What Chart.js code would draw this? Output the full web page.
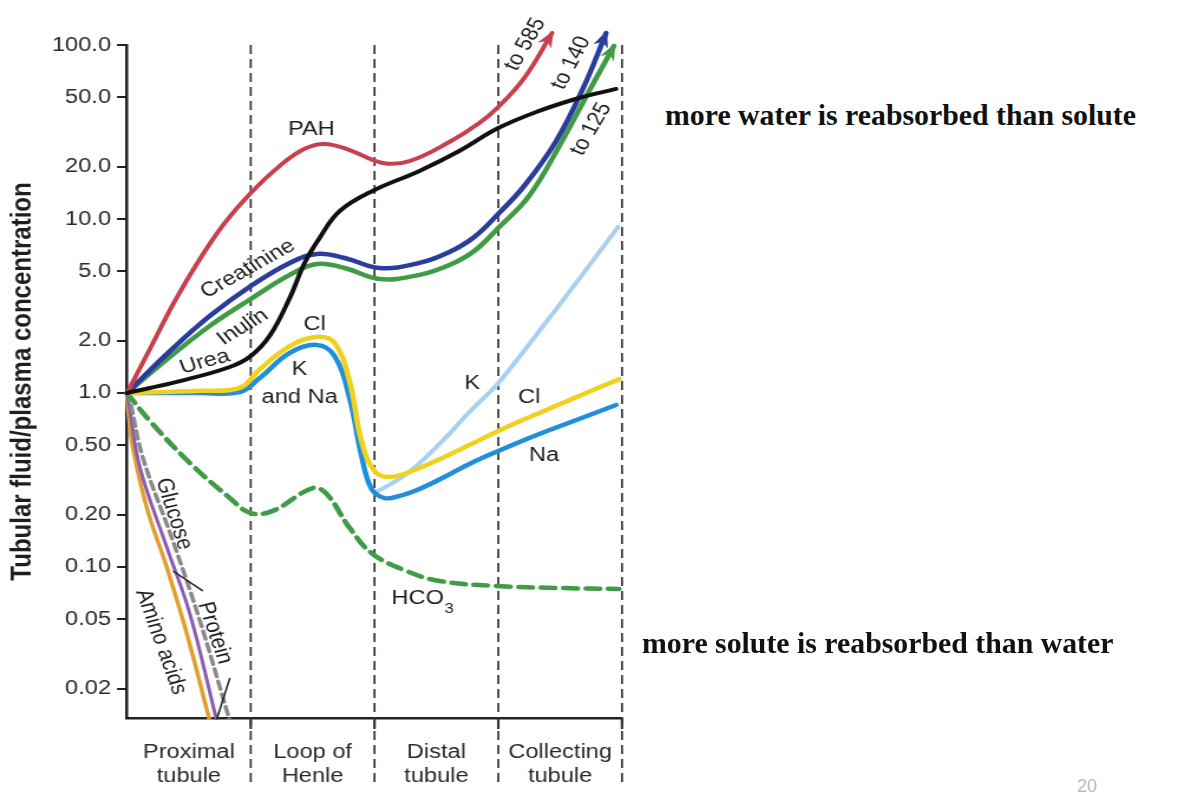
<!DOCTYPE html>
<html><head><meta charset="utf-8">
<script src="https://cdn.jsdelivr.net/npm/chart.js@4"></script>
<style>
html,body{margin:0;padding:0;background:#fff;}
#page{position:relative;width:1191px;height:792px;overflow:hidden;background:#fff;}
#chartBox{position:absolute;left:0;top:0;width:660px;height:792px;}
#c{display:block;}
.note{position:absolute;font-family:'Liberation Serif','Times New Roman',serif;font-weight:bold;font-size:29.8px;line-height:30px;color:#111;white-space:nowrap;}
.pg{position:absolute;font-family:'Liberation Sans',Arial,sans-serif;font-size:18px;color:#bbb;}
</style></head>
<body>
<div id="page">
  <div id="chartBox"><canvas id="c" width="559" height="792" style="width:660px;height:792px"></canvas></div>
  <div class="note" style="left:665px;top:100px">more water is reabsorbed than solute</div>
  <div class="note" style="left:642px;top:628px">more solute is reabsorbed than water</div>
  <div class="pg" style="left:1077px;top:776px">20</div>
</div>
<script>
// ---- data ----
const segments = ['Proximal\ntubule', 'Loop of\nHenle', 'Distal\ntubule', 'Collecting\ntubule'];
const segmentCenters = [0.5, 1.5, 2.5, 3.5];
const segmentBounds = [1, 2, 3, 4];
const yTickValues = [0.02, 0.05, 0.1, 0.2, 0.5, 1, 2, 5, 10, 20, 50, 100];
const yTickLabels = ['0.02', '0.05', '0.10', '0.20', '0.50', '1.0', '2.0', '5.0', '10.0', '20.0', '50.0', '100.0'];

const pahX = [0, 0.185, 0.387, 0.589, 0.79, 1.0, 1.234, 1.435, 1.597, 1.798, 2.065, 2.282, 2.605, 2.847, 3.0, 3.21, 3.435];
const pahV = [1, 1.79, 3.38, 5.89, 9.49, 14.1, 20.2, 25.3, 27.0, 24.9, 21.0, 21.5, 27.7, 35.6, 44.0, 64.6, 117];

const creatX = [0, 0.347, 0.669, 1.0, 1.315, 1.532, 1.758, 2.04, 2.363, 2.605, 2.806, 3.0, 3.21, 3.468, 3.694, 3.871];
const creatV = [1, 1.74, 2.77, 4.12, 5.59, 6.29, 5.97, 5.23, 5.59, 6.46, 7.88, 10.7, 15.5, 28.1, 58.1, 117];

const inulinX = [0, 0.347, 0.669, 1.0, 1.315, 1.532, 1.758, 2.04, 2.363, 2.605, 2.806, 3.0, 3.25, 3.516, 3.734, 3.935];
const inulinV = [1, 1.61, 2.43, 3.47, 4.77, 5.51, 5.23, 4.52, 4.77, 5.44, 6.55, 8.88, 13.6, 28.1, 54.4, 98.7];

const ureaX = [0, 0.427, 0.831, 1.0, 1.153, 1.315, 1.435, 1.556, 1.718, 1.984, 2.363, 2.685, 3.0, 3.331, 3.653, 3.952];
const ureaV = [1, 1.17, 1.41, 1.63, 2.13, 3.52, 5.59, 7.78, 11.1, 14.5, 18.9, 24.6, 33.3, 41.8, 49.6, 55.9];

const clX = [0, 0.589, 0.911, 1.073, 1.315, 1.532, 1.677, 1.798, 1.895, 2.0, 2.121, 2.323, 2.565, 2.766, 3.0, 3.331, 3.653, 3.976];
const clV = [1, 1.03, 1.07, 1.37, 1.86, 2.10, 1.94, 1.17, 0.530, 0.356, 0.329, 0.361, 0.429, 0.502, 0.605, 0.767, 0.961, 1.20];

const naX = [0, 0.589, 0.911, 1.073, 1.315, 1.532, 1.677, 1.798, 1.895, 1.976, 2.081, 2.202, 2.363, 2.565, 2.766, 3.0, 3.331, 3.653, 3.952];
const naV = [1, 1.0, 1.013, 1.22, 1.70, 1.89, 1.63, 0.936, 0.435, 0.281, 0.249, 0.256, 0.281, 0.329, 0.391, 0.464, 0.581, 0.709, 0.853];

const kX = [2.0, 2.258, 2.524, 2.79, 3.0, 3.331, 3.653, 3.968];
const kV = [0.266, 0.342, 0.509, 0.809, 1.14, 2.27, 4.52, 9.0];

const hco3X = [0, 0.185, 0.508, 0.831, 1.0, 1.177, 1.5, 1.613, 1.798, 1.984, 2.258, 2.524, 2.984, 3.492, 3.976];
const hco3V = [1, 0.690, 0.396, 0.249, 0.204, 0.210, 0.284, 0.263, 0.168, 0.119, 0.0948, 0.0831, 0.0778, 0.0757, 0.0748];

const glucoseX = [0, 0.024, 0.105, 0.323, 0.508, 0.726];
const glucoseV = [1, 0.788, 0.371, 0.129, 0.0537, 0.0130];

const aminoX = [0, 0.008, 0.048, 0.161, 0.323, 0.484, 0.669];
const aminoV = [1, 0.820, 0.483, 0.218, 0.0987, 0.0412, 0.0130];

const proteinX = [0, 0.024, 0.129, 0.371, 0.589, 0.831];
const proteinV = [1, 0.899, 0.423, 0.141, 0.049, 0.013];

// ---- annotation text (placed in data coordinates) ----
const labelItems = [
  {t: 'PAH', x: 1.49, v: 32.9, a: 0},
  {t: 'Creatinine', x: 0.976, v: 5.16, a: -29},
  {t: 'Inulin', x: 0.935, v: 2.39, a: -31},
  {t: 'Urea', x: 0.629, v: 1.51, a: -15},
  {t: 'Cl', x: 1.516, v: 2.49, a: 0},
  {t: 'K', x: 1.395, v: 1.37, a: 0},
  {t: 'and Na', x: 1.395, v: 0.948, a: 0},
  {t: 'K', x: 2.79, v: 1.13, a: 0},
  {t: 'Cl', x: 3.25, v: 0.948, a: 0},
  {t: 'Na', x: 3.37, v: 0.435, a: 0},
  {t: 'Glucose', x: 0.379, v: 0.202, a: 72},
  {t: 'Amino acids', x: 0.274, v: 0.0371, a: 70},
  {t: 'Protein', x: 0.71, v: 0.0418, a: 71},
  {t: 'to 585', x: 3.218, v: 101, a: -60},
  {t: 'to 140', x: 3.589, v: 78.8, a: -62},
  {t: 'to 125', x: 3.75, v: 32.9, a: -60}
];
const hco3Label = {x: 2.137, v: 0.0655};
const leaderLines = [
  {x1: 0.371, v1: 0.0948, x2: 0.613, v2: 0.0728},
  {x1: 0.831, v1: 0.0230, x2: 0.726, v2: 0.01337}
];

// ---- rendering ----
const SX = 660 / 559; // horizontal stretch of the figure
Chart.defaults.font.family = "'Liberation Sans', Arial, Helvetica, sans-serif";

function pts(xs, vs) { return xs.map((x, i) => ({x: x, y: vs[i]})); }
function ds(label, xs, vs, color, width, dash, arrow) {
  return {
    label: label, data: pts(xs, vs), borderColor: color, backgroundColor: color,
    borderWidth: width, borderDash: dash || [], fill: false, pointRadius: 0,
    clip: {left: 3, right: 3, top: false, bottom: 2}, arrow: !!arrow
  };
}

const datasets = [
  ds('Urea', ureaX, ureaV, '#111111', 4),
  ds('PAH', pahX, pahV, '#c8404f', 4, null, true),
  ds('Creatinine', creatX, creatV, '#2a3c9c', 4.5, null, true),
  ds('Inulin', inulinX, inulinV, '#3f9b46', 4.5, null, true),
  ds('Cl', clX, clV, '#f1d11f', 4.5),
  ds('Na', naX, naV, '#1f8fdb', 4.5),
  ds('K', kX, kV, '#a8d0f2', 4),
  ds('HCO3', hco3X, hco3V, '#3f9b46', 4.5, [12, 7]),
  ds('Protein', proteinX, proteinV, '#8a8a8a', 3.5, [8, 5]),
  ds('Glucose', glucoseX, glucoseV, '#8a5db2', 3),
  ds('Amino acids', aminoX, aminoV, '#e0a030', 3.5)
];

function rot(aDeg) {
  const a = aDeg * Math.PI / 180;
  return Math.atan2(Math.sin(a), Math.cos(a) / SX);
}

const figurePlugin = {
  id: 'figure',
  beforeDatasetsDraw(chart) {
    const {ctx, chartArea} = chart;
    const xs = chart.scales.x;
    ctx.save();
    ctx.strokeStyle = '#333';
    ctx.lineWidth = 2 / SX;
    ctx.setLineDash([9, 5]);
    segmentBounds.forEach(b => {
      const X = xs.getPixelForValue(b);
      ctx.beginPath(); ctx.moveTo(X, chartArea.top); ctx.lineTo(X, chartArea.bottom + 64); ctx.stroke();
    });
    ctx.setLineDash([]);
    ctx.lineWidth = 2.5 / SX;
    segmentBounds.forEach(b => {
      const X = xs.getPixelForValue(b);
      ctx.beginPath(); ctx.moveTo(X, chartArea.bottom); ctx.lineTo(X, chartArea.bottom + 11); ctx.stroke();
    });
    ctx.restore();
  },
  afterDatasetsDraw(chart) {
    const {ctx} = chart;
    const xs = chart.scales.x, ys = chart.scales.y;
    ctx.save();
    // arrowheads
    chart.data.datasets.forEach((d, i) => {
      if (!d.arrow) return;
      const el = chart.getDatasetMeta(i).data;
      const last = el[el.length - 1];
      let cx = last.cp1x, cy = last.cp1y;
      if (cx === undefined || (Math.abs(cx - last.x) < 0.5 && Math.abs(cy - last.y) < 0.5)) {
        cx = el[el.length - 2].x; cy = el[el.length - 2].y;
      }
      let dx = last.x - cx, dy = last.y - cy;
      const L = Math.hypot(dx, dy); dx /= L; dy /= L;
      const tipX = last.x + dx * 3, tipY = last.y + dy * 3;
      const len = 17, w = 6.5;
      const bx = tipX - dx * len, by = tipY - dy * len;
      const nx = tipX - dx * (len - 5), ny = tipY - dy * (len - 5);
      ctx.fillStyle = d.borderColor;
      ctx.beginPath();
      ctx.moveTo(tipX, tipY);
      ctx.lineTo(bx - dy * w, by + dx * w);
      ctx.lineTo(nx, ny);
      ctx.lineTo(bx + dy * w, by - dx * w);
      ctx.closePath();
      ctx.fill();
    });
    // leader lines
    ctx.strokeStyle = '#222';
    ctx.lineWidth = 1.5;
    leaderLines.forEach(l => {
      ctx.beginPath();
      ctx.moveTo(xs.getPixelForValue(l.x1), ys.getPixelForValue(l.v1));
      ctx.lineTo(xs.getPixelForValue(l.x2), ys.getPixelForValue(l.v2));
      ctx.stroke();
    });
    // labels
    ctx.fillStyle = '#1e1e1e';
    ctx.font = "20px 'Liberation Sans', Arial, sans-serif";
    ctx.textAlign = 'center';
    ctx.textBaseline = 'middle';
    labelItems.forEach(l => {
      const X = xs.getPixelForValue(l.x), Y = ys.getPixelForValue(l.v);
      ctx.save();
      ctx.translate(X, Y);
      if (l.a) ctx.rotate(rot(l.a));
      ctx.fillText(l.t, 0, 0);
      ctx.restore();
    });
    // HCO3 with subscript
    const hx = xs.getPixelForValue(hco3Label.x), hy = ys.getPixelForValue(hco3Label.v);
    ctx.textAlign = 'left';
    ctx.fillText('HCO', hx, hy);
    const w = ctx.measureText('HCO').width;
    ctx.font = "14px 'Liberation Sans', Arial, sans-serif";
    ctx.fillText('3', hx + w + 0.5, hy + 10);
    ctx.restore();
  }
};

new Chart(document.getElementById('c'), {
  type: 'line',
  data: {datasets: datasets},
  options: {
    responsive: false,
    animation: false,
    devicePixelRatio: 1,
    layout: {padding: {left: 0, top: 45, right: 559 - 622 / SX, bottom: 0}},
    plugins: {legend: {display: false}, tooltip: {enabled: false}},
    elements: {
      point: {radius: 0},
      line: {tension: 0.4, cubicInterpolationMode: 'default', borderCapStyle: 'round', borderJoinStyle: 'round'}
    },
    scales: {
      x: {
        type: 'linear', min: 0, max: 4, bounds: 'data',
        grid: {display: false, drawTicks: false},
        border: {display: true, color: '#222', width: 2.5},
        ticks: {
          autoSkip: false, maxRotation: 0, minRotation: 0, padding: 22, color: '#2a2a2a',
          font: {size: 20, lineHeight: 1.2},
          callback: (v, i) => segments[i].split('\n')
        },
        afterBuildTicks: s => { s.ticks = segmentCenters.map(v => ({value: v})); },
        afterFit: s => { s.height = 792 - 718; }
      },
      y: {
        type: 'logarithmic', min: 0.01355, max: 100, bounds: 'data',
        grid: {display: true, drawOnChartArea: false, drawTicks: true, tickLength: 10 / SX, color: '#222', lineWidth: 2},
        border: {display: true, color: '#222', width: 3 / SX},
        ticks: {
          autoSkip: false, padding: 6 / SX, color: '#2a2a2a', font: {size: 20},
          callback: (v, i) => yTickLabels[i]
        },
        afterBuildTicks: s => { s.ticks = yTickValues.map(v => ({value: v})); },
        title: {
          display: true, text: 'Tubular fluid/plasma concentration', color: '#1e1e1e',
          font: {size: 24, weight: 'bold'}, padding: {top: 5, bottom: 0}
        },
        afterFit: s => { s.width = 127 / SX; }
      }
    }
  },
  plugins: [figurePlugin]
});
</script>
</body></html>
